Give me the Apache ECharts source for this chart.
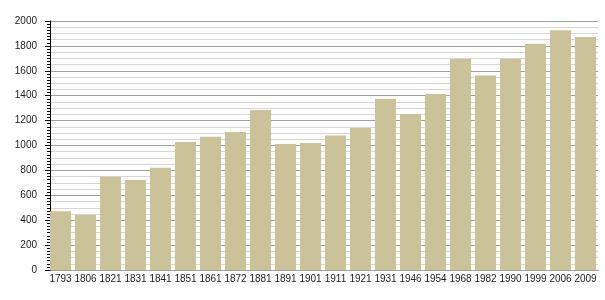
<!DOCTYPE html>
<html>
<head>
<meta charset="utf-8">
<script src="https://cdn.jsdelivr.net/npm/echarts@6/dist/echarts.min.js"></script>
<style>html,body{margin:0;padding:0;background:#fff}#c{width:605px;height:300px}</style>
</head>
<body>
<div id="c"></div>
<script>
const years = ["1793","1806","1821","1831","1841","1851","1861","1872","1881","1891","1901","1911","1921","1931","1946","1954","1968","1982","1990","1999","2006","2009"];
const population = [471,442,749,723,821,1028,1070,1108,1285,1012,1021,1080,1140,1375,1253,1414,1695,1563,1695,1817,1925,1871];
const yTicks = [0,200,400,600,800,1000,1200,1400,1600,1800,2000];

const chart = echarts.init(document.getElementById('c'), null, {renderer:'canvas'});
const font = {fontFamily:'Liberation Sans', fontSize:10, color:'#222'};
chart.setOption({
  animation:false,
  grid:{left:48, right:7, top:21, bottom:30, containLabel:false},
  xAxis:{
    type:'category', data:years,
    axisLine:{lineStyle:{color:'#000', width:1}},
    axisTick:{show:false},
    axisLabel:Object.assign({margin:4, interval:0}, font)
  },
  yAxis:[
    {
      type:'value', min:yTicks[0], max:yTicks[yTicks.length-1], interval:200, offset:-2,
      axisLine:{show:true, lineStyle:{color:'#000', width:1}},
      axisTick:{show:true, length:5, lineStyle:{color:'#000'}},
      minorTick:{show:true, splitNumber:8, length:3, lineStyle:{color:'#000'}},
      splitLine:{show:true, lineStyle:{color:'#a0a0a0', width:1}},
      axisLabel:Object.assign({margin:13, formatter:function(v){return String(v);}}, font),
      z:3
    },
    {
      type:'value', min:0, max:2000, interval:50,
      axisLine:{show:false}, axisTick:{show:false}, axisLabel:{show:false},
      splitLine:{show:true, lineStyle:{color:'#d6d6d6', width:1}},
      z:1
    }
  ],
  series:[{
    type:'bar', data:population, barWidth:21,
    itemStyle:{color:'#CCC29A'},
    z:5
  }]
});
</script>
</body>
</html>
